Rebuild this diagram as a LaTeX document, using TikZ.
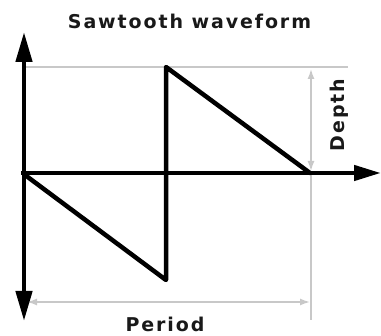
\documentclass[tikz,border=0pt]{standalone}
\usepackage{fontspec}
\setmainfont{DejaVu Sans}
\newfontfamily\labfont[LetterSpace=10]{DejaVu Sans Bold}
\usetikzlibrary{arrows.meta}
\definecolor{guide}{RGB}{200,200,200}
\tikzset{
  wave/.style={line width=4.5pt, line join=round, line cap=round},
  axisline/.style={line width=4.5pt},
  guideline/.style={draw=guide, line width=1.5pt},
  labeltext/.style={font=\labfont\fontsize{19}{21}\selectfont, inner sep=0pt, text=black!90},
  vtip/.style={-{Triangle[length=30pt,width=16pt]}},
  htip/.style={-{Triangle[length=27pt,width=15pt]}},
  gtip/.style={{Latex[length=10pt,width=7pt]}-{Latex[length=10pt,width=7pt]}}
}
\begin{document}
\begin{tikzpicture}[x=1pt,y=-1pt]
\useasboundingbox (0,0) rectangle (381,336);
% coordinates
\coordinate (vtop) at (24,32);
\coordinate (vbot) at (24,321);
\coordinate (hleft) at (21,173);
\coordinate (hright) at (381,173);
\coordinate (w0) at (25,175);
\coordinate (w1) at (166,280);
\coordinate (w2) at (166,67);
\coordinate (w3) at (310,173);
\coordinate (gtl) at (26,67);
\coordinate (gtr) at (348,67);
\coordinate (dtop) at (311,69);
\coordinate (dbot) at (311,171);
\coordinate (dend) at (311,320);
\coordinate (pl) at (27,302);
\coordinate (pr) at (310,302);
% guides
\draw[guideline] (gtl) -- (gtr);
\draw[guideline] (dbot) -- (dend);
\draw[guideline, gtip] (dtop) -- (dbot);
\draw[guideline, gtip] (pl) -- (pr);
% axes
\draw[axisline, vtip] (24,173) -- (vtop);
\draw[axisline, vtip] (24,173) -- (vbot);
\draw[axisline, htip] (hleft) -- (hright);
% waveform
\draw[wave] (w0) -- (w1) -- (w2) -- (w3);
% labels
\node[labeltext] (title) at (189.5,21) {Sawtooth waveform};
\node[labeltext, rotate=90] (depth) at (339,115) {Depth};
\node[labeltext, anchor=base] (period) at (165,332) {Period};
\end{tikzpicture}
\end{document}
